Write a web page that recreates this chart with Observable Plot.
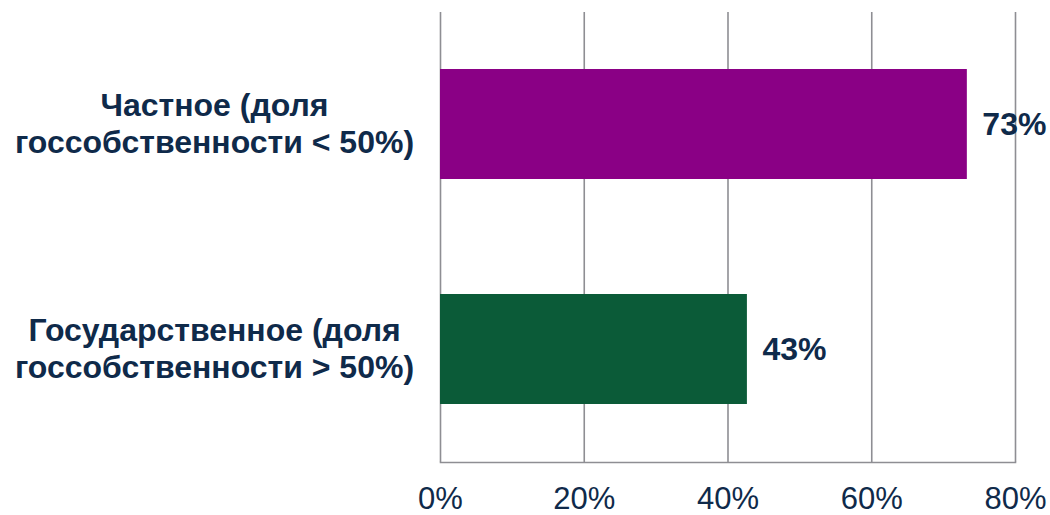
<!DOCTYPE html>
<html>
<head>
<meta charset="utf-8">
<script src="https://cdn.jsdelivr.net/npm/d3@7"></script>
<script src="https://cdn.jsdelivr.net/npm/@observablehq/plot@0.6"></script>
<style>
  body { margin: 0; background: #fff; }
  svg { font-family: "Liberation Sans", Arial, sans-serif; }
</style>
</head>
<body>
<div id="chart"></div>
<script>
const categories = ["Частное (доля\nгоссобственности < 50%)", "Государственное (доля\nгоссобственности > 50%)"];
const values = [73.3, 42.7];
const colors = ["#8a0085", "#0b5b38"];
const xTicks = [0, 20, 40, 60, 80];

const data = categories.map((c, i) => ({category: c, value: values[i], color: colors[i]}));
const navy = "#0f2a4a";

const chart = Plot.plot({
  width: 1050,
  height: 515,
  marginLeft: 440,
  marginRight: 35,
  marginTop: 12,
  marginBottom: 53,
  style: {fontFamily: "'Liberation Sans', Arial, sans-serif", background: "#fff"},
  x: {domain: [0, 80]},
  y: {domain: categories, paddingInner: 0.51, paddingOuter: 0.255},
  marks: [
    Plot.gridX(xTicks, {stroke: "#8e8e93", strokeOpacity: 1, strokeWidth: 1.6}),
    Plot.frame({anchor: "bottom", stroke: "#8e8e93", strokeWidth: 1.6}),
    Plot.barX(data, {x: "value", y: "category", fill: "color"}),
    Plot.text(data, {x: "value", y: "category", text: d => Math.round(d.value) + "%", textAnchor: "start", dx: 15, fontSize: 32, fontWeight: "bold", fill: navy}),
    Plot.axisX({ticks: xTicks, tickSize: 0, tickPadding: 24, tickFormat: d => d + "%", fontSize: 31, fill: navy, label: null}),
    Plot.axisY({tickSize: 0, tickPadding: 226, textAnchor: "middle", fontSize: 32, fontWeight: "bold", fill: navy, lineHeight: 1.16, dy: -2, label: null})
  ]
});
document.getElementById("chart").appendChild(chart);
</script>
</body>
</html>
